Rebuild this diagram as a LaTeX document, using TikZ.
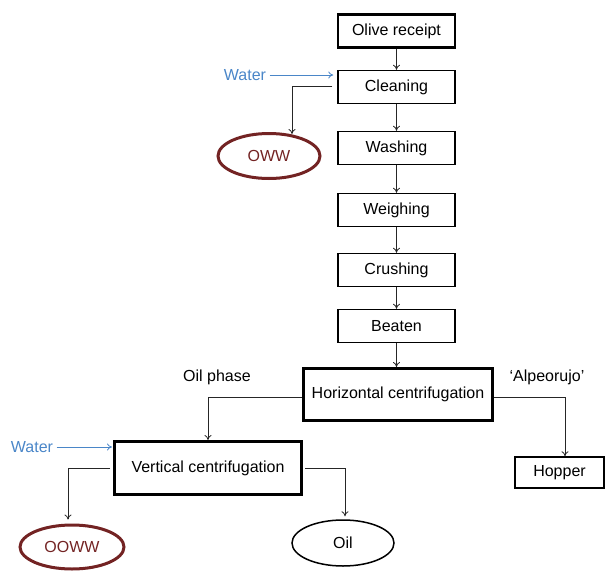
\documentclass[tikz,border=0pt]{standalone}
\usepackage{fontspec}
\setmainfont{Liberation Sans}
\usetikzlibrary{arrows.meta,shapes.geometric}
\definecolor{waterblue}{RGB}{74,134,200}
\definecolor{wastered}{RGB}{115,35,35}

\begin{document}
\begin{tikzpicture}[x=1pt,y=-1pt,font=\fontsize{16}{19}\selectfont,
    stepbox/.style={draw,line width=1.5pt,minimum width=117pt,minimum height=33pt,inner sep=0pt},
    bigbox/.style={draw,line width=3pt,inner sep=0pt},
    waste/.style={ellipse,draw=wastered,line width=3pt,text=wastered,inner sep=0pt},
    product/.style={ellipse,draw,line width=1.5pt,inner sep=0pt},
    flow/.style={-{To[length=5pt,width=7pt]},line width=0.8pt,draw=black!85},
    feed/.style={flow,draw=waterblue}]
\useasboundingbox (0,0) rectangle (606,571);
            % Steps
\node[stepbox,line width=2.5pt] (receipt) at (396.5,31) {Olive receipt};
\node[stepbox] (cleaning) at (396.5,87) {Cleaning};
\node[stepbox] (washing)  at (396.5,148) {Washing};
\node[stepbox] (weighing) at (396.5,210) {Weighing};
\node[stepbox] (crushing) at (396.5,270) {Crushing};
\node[stepbox] (beaten)   at (396.5,326) {Beaten};
\node[bigbox,minimum width=189pt,minimum height=52pt] (horizontal) at (398,394.5) {Horizontal centrifugation};
\node[bigbox,minimum width=187pt,minimum height=53pt] (vertical) at (208,468) {Vertical centrifugation};
\node[stepbox,minimum width=89pt,minimum height=31pt] (hopper) at (559.5,472.5) {Hopper};
            % Outputs
\node[waste,minimum width=102pt,minimum height=45pt] (oww) at (269,156) {OWW};
\node[waste,minimum width=104pt,minimum height=44pt] (ooww) at (72,547) {OOWW};
\node[product,minimum width=102pt,minimum height=46pt] (oil) at (343,543) {Oil};
            % Labels
\node[text=waterblue] (water1) at (245,75) {Water};
\node[text=waterblue] (water2) at (32,447) {Water};
\node (oilphase) at (217,377) {Oil phase};
\node (alpeorujo) at (547,377) {‘Alpeorujo’};
%Main line
\draw[flow] (receipt) -- (cleaning);
\draw[flow] (cleaning) -- (washing);
\draw[flow] (washing) -- (weighing);
\draw[flow] (weighing) -- (crushing);
\draw[flow] (crushing) -- (beaten);
\draw[flow] (beaten) -- (beaten.south |- horizontal.north);
%Water in
\draw[feed,shorten >=4pt] (water1.east) -- (water1.east -| cleaning.west);
\draw[feed,shorten >=1pt] (water2.east) -- (water2.east -| vertical.west);
%Branches
\draw[flow] ([xshift=-5pt,yshift=1pt]cleaning.west) -| ([xshift=23pt,yshift=-2pt]oww.north);
\draw[flow] ([yshift=-2.5pt]horizontal.west) -| (vertical.north);
\draw[flow] ([yshift=-2.5pt]horizontal.east) -| ([xshift=5.5pt]hopper.north);
\draw[flow,shorten >=4pt] ([xshift=-3pt]vertical.west) -| ([xshift=-4pt]ooww.north);
\draw[flow,shorten >=3pt] ([xshift=2pt]vertical.east) -| ([xshift=2pt]oil.north);

\end{tikzpicture}
\end{document}
